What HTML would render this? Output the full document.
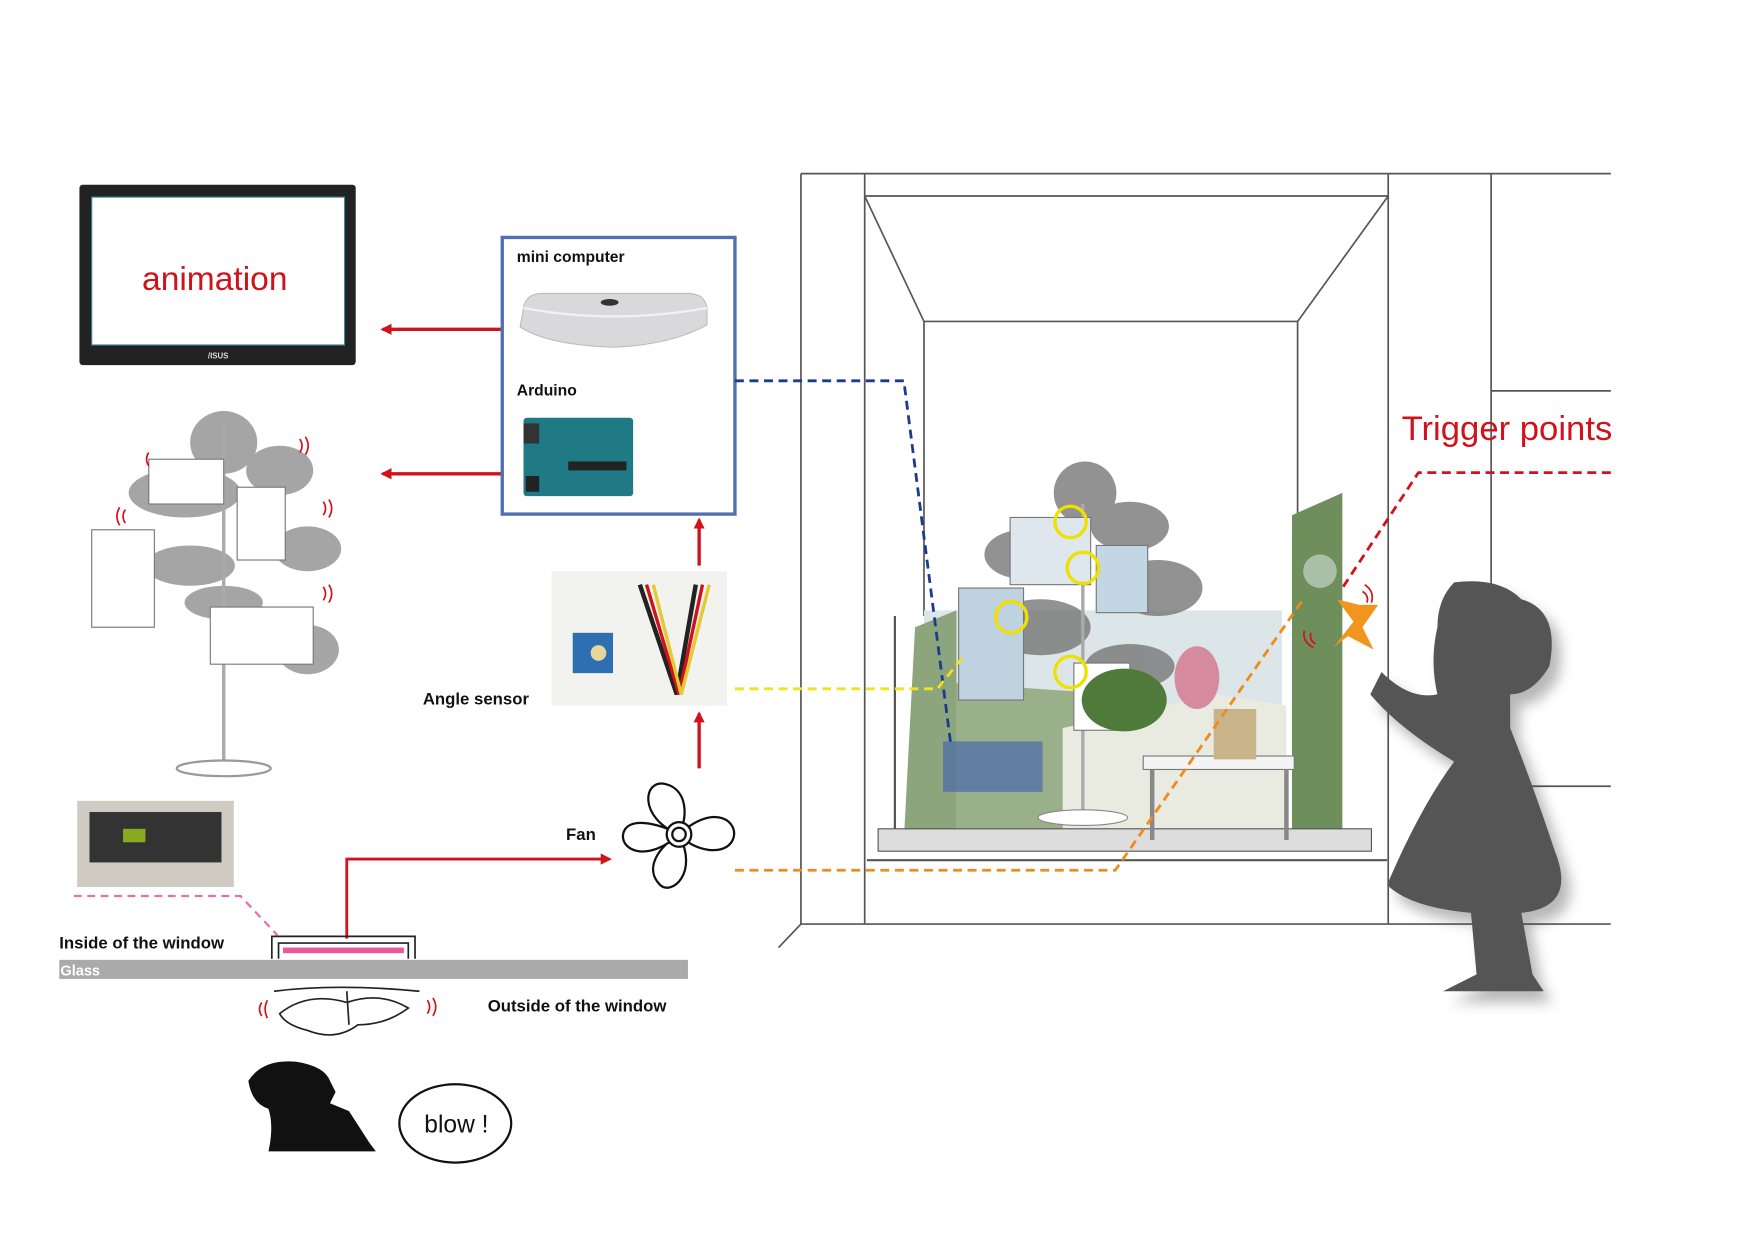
<!DOCTYPE html>
<html><head><meta charset="utf-8"><style>
html,body{margin:0;padding:0;background:#fff;}
svg{display:block;}
text{font-family:"Liberation Sans",sans-serif;}
</style></head><body>
<svg width="1754" height="1241" viewBox="0 0 1568 1108" xmlns="http://www.w3.org/2000/svg" preserveAspectRatio="none">
<defs>
<marker id="ar" markerWidth="10" markerHeight="10" refX="8" refY="5" orient="auto" markerUnits="userSpaceOnUse"><path d="M0,0 L10,5 L0,10 Z" fill="#d0121b"/></marker>
<filter id="sh"><feGaussianBlur stdDeviation="6"/></filter>
</defs>
<rect width="1568" height="1108" fill="#fff"/>

<!-- monitor -->
<rect x="71" y="165" width="247" height="161" rx="3" fill="#222"/>
<rect x="82" y="176" width="226" height="132" fill="#fff" stroke="#3a8a9a" stroke-width="1"/>
<text x="192" y="259" font-size="30" fill="#d0121b" text-anchor="middle">animation</text>
<text x="195" y="320" font-size="7" fill="#ddd" text-anchor="middle" font-weight="bold">/ISUS</text>

<line x1="448" y1="294" x2="342" y2="294" stroke="#d0121b" stroke-width="3" marker-end="url(#ar)"/>
<line x1="448" y1="423" x2="342" y2="423" stroke="#d0121b" stroke-width="3" marker-end="url(#ar)"/>

<!-- controller box -->
<rect x="449" y="212" width="208" height="247" fill="#fff" stroke="#5170b0" stroke-width="3"/>
<text x="462" y="234" font-size="14" font-weight="bold" fill="#111">mini computer</text>
<path d="M468,275 Q470,262 485,262 L615,262 Q630,262 632,275 L632,290 Q600,308 548,310 Q490,308 465,292 Z" fill="#d9d9dc" stroke="#bbb"/>
<path d="M468,275 Q548,290 632,275" fill="none" stroke="#f2f2f2" stroke-width="2"/>
<ellipse cx="545" cy="270" rx="8" ry="3" fill="#333"/>
<text x="462" y="353" font-size="14" font-weight="bold" fill="#111">Arduino</text>
<rect x="468" y="373" width="98" height="70" rx="3" fill="#1f7a86"/>
<rect x="468" y="378" width="14" height="18" fill="#333"/>
<rect x="508" y="412" width="52" height="8" fill="#222"/>
<rect x="470" y="425" width="12" height="14" fill="#222"/>

<!-- left tree -->
<g fill="#888" opacity="0.75">
<ellipse cx="200" cy="395" rx="30" ry="28"/>
<ellipse cx="250" cy="420" rx="30" ry="22"/>
<ellipse cx="165" cy="440" rx="50" ry="22"/>
<ellipse cx="275" cy="490" rx="30" ry="20"/>
<ellipse cx="170" cy="505" rx="40" ry="18"/>
<ellipse cx="200" cy="538" rx="35" ry="15"/>
<ellipse cx="275" cy="580" rx="28" ry="22"/>
</g>
<line x1="200" y1="380" x2="200" y2="685" stroke="#aaa" stroke-width="3"/>
<ellipse cx="200" cy="686" rx="42" ry="7" fill="#fff" stroke="#999" stroke-width="2"/>
<g fill="#fff" stroke="#777" stroke-width="1">
<rect x="133" y="410" width="67" height="40"/>
<rect x="212" y="435" width="43" height="65"/>
<rect x="82" y="473" width="56" height="87"/>
<rect x="188" y="542" width="92" height="51"/>
</g>
<g fill="none" stroke="#d0121b" stroke-width="1.5">
<path d="M268,392 q4,6 0,12 M273,390 q5,8 0,16"/>
<path d="M289,448 q4,6 0,12 M294,446 q5,8 0,16"/>
<path d="M289,524 q4,6 0,12 M294,522 q5,8 0,16"/>
<path d="M133,404 q-4,6 0,12"/>
<path d="M112,455 q-4,6 0,12 M107,453 q-5,8 0,16"/>
</g>

<!-- angle sensor -->
<rect x="493" y="510" width="157" height="120" fill="#f2f2ef"/>
<rect x="512" y="565" width="36" height="36" fill="#2d6fb0"/>
<circle cx="535" cy="583" r="7" fill="#e6d69a"/>
<path d="M572,522 L605,620 L622,522" fill="none" stroke="#222" stroke-width="4"/>
<path d="M578,522 L607,620 L628,522" fill="none" stroke="#d0121b" stroke-width="3"/>
<path d="M584,522 L609,620 L634,522" fill="none" stroke="#e6c830" stroke-width="3"/>
<text x="378" y="629" font-size="15" font-weight="bold" fill="#111">Angle sensor</text>
<line x1="625" y1="505" x2="625" y2="464" stroke="#d0121b" stroke-width="3" marker-end="url(#ar)"/>
<line x1="625" y1="686" x2="625" y2="637" stroke="#d0121b" stroke-width="3" marker-end="url(#ar)"/>

<!-- fan -->
<g fill="#fff" stroke="#111" stroke-width="2">
<path d="M607,745 C570,730 575,695 595,700 C615,705 615,730 607,745Z"/>
<path d="M607,745 C640,715 662,735 655,750 C648,765 620,760 607,745Z"/>
<path d="M607,745 C625,780 600,800 590,790 C575,775 590,755 607,745Z"/>
<path d="M607,745 C580,770 555,760 557,745 C560,728 590,735 607,745Z"/>
<circle cx="607" cy="745" r="11"/><circle cx="607" cy="745" r="6"/>
</g>
<text x="506" y="750" font-size="15" font-weight="bold" fill="#111">Fan</text>
<path d="M310,838 L310,767 L545,767" fill="none" stroke="#d0121b" stroke-width="2.5" marker-end="url(#ar)"/>

<!-- pcb -->
<rect x="69" y="715" width="140" height="77" fill="#cfcac2"/>
<rect x="80" y="725" width="118" height="45" fill="#333"/>
<rect x="110" y="740" width="20" height="12" fill="#8a2"/>
<path d="M66,800 L215,800 L248,835" fill="none" stroke="#ea6fa4" stroke-width="2" stroke-dasharray="7,5"/>
<text x="53" y="847" font-size="15" font-weight="bold" fill="#111">Inside of the window</text>
<rect x="53" y="857" width="562" height="17" fill="#aaa"/>
<text x="54" y="871" font-size="13" fill="#fff" font-weight="bold">Glass</text>
<path d="M243,856 L243,836 L371,836 L371,856 M249,856 L249,842 L365,842 L365,856" fill="none" stroke="#222" stroke-width="1.5"/>
<rect x="253" y="846" width="108" height="5" fill="#e8589a"/>
<text x="436" y="903" font-size="15" font-weight="bold" fill="#111">Outside of the window</text>
<g fill="none" stroke="#222" stroke-width="1.5">
<path d="M245,885 Q300,878 375,885"/>
<path d="M250,905 Q275,885 310,895 Q340,885 365,900 Q345,915 320,915 Q300,930 275,920 Q255,915 250,905Z"/>
<path d="M310,885 L312,915"/>
</g>
<g fill="none" stroke="#d0121b" stroke-width="1.5">
<path d="M234,895 q-4,6 0,12 M239,893 q-4,8 0,16"/>
<path d="M382,893 q4,6 0,12 M387,891 q5,8 0,16"/>
</g>
<path d="M222,965 Q235,945 265,948 Q290,952 295,965 L300,975 L295,985 L312,992 L330,1020 L336,1028 L240,1028 Q245,1005 240,990 Q225,985 222,965Z" fill="#111"/>
<ellipse cx="407" cy="1003" rx="50" ry="35" fill="#fff" stroke="#111" stroke-width="2"/>
<text x="408" y="1011" font-size="22" fill="#111" text-anchor="middle">blow !</text>

<!-- window frame -->
<g stroke="#555" stroke-width="1.5" fill="none">
<line x1="716" y1="155" x2="716" y2="825"/>
<line x1="716" y1="155" x2="1440" y2="155"/>
<line x1="773" y1="155" x2="773" y2="825"/>
<line x1="1241" y1="155" x2="1241" y2="825"/>
<line x1="1333" y1="155" x2="1333" y2="825"/>
<line x1="716" y1="825" x2="1440" y2="825"/>
<line x1="1333" y1="349" x2="1440" y2="349"/>
<line x1="1333" y1="702" x2="1440" y2="702"/>
<line x1="716" y1="825" x2="696" y2="846"/>
<line x1="773" y1="175" x2="1241" y2="175"/>
<line x1="773" y1="175" x2="826" y2="287"/>
<line x1="1241" y1="175" x2="1160" y2="287"/>
<line x1="826" y1="287" x2="1160" y2="287"/>
<line x1="826" y1="287" x2="826" y2="550"/>
<line x1="1160" y1="287" x2="1160" y2="550"/>
</g>
<rect x="826" y="545" width="320" height="120" fill="#dce6e8"/>
<path d="M818,560 L855,545 L855,745 L808,750 Z" fill="#8ca57c"/>
<path d="M855,610 L1000,620 L1000,740 L855,745 Z" fill="#99b08a"/>
<path d="M950,650 L1090,620 L1150,630 L1150,740 L950,740 Z" fill="#e9ebe0"/>
<path d="M1155,460 L1200,440 L1200,745 L1155,745 Z" fill="#6e8e5c"/>
<circle cx="1180" cy="510" r="15" fill="#a9bfa8"/>
<path d="M800,550 L800,750" stroke="#555" stroke-width="2"/>
<rect x="843" y="662" width="89" height="45" fill="#4d6fa8" opacity="0.75"/>
<path d="M785,740 L1226,740 L1226,760 L785,760 Z" fill="#ddd" stroke="#555"/>
<path d="M775,768 L1240,768" stroke="#555" stroke-width="2"/>
<rect x="1022" y="675" width="135" height="12" fill="#f4f4f4" stroke="#777"/>
<line x1="1030" y1="687" x2="1030" y2="750" stroke="#888" stroke-width="4"/>
<line x1="1150" y1="687" x2="1150" y2="750" stroke="#888" stroke-width="4"/>
<rect x="1085" y="633" width="38" height="45" fill="#c9b48a"/>
<g fill="#777" opacity="0.8">
<ellipse cx="970" cy="440" rx="28" ry="28"/>
<ellipse cx="1010" cy="470" rx="35" ry="22"/>
<ellipse cx="915" cy="495" rx="35" ry="22"/>
<ellipse cx="1035" cy="525" rx="40" ry="25"/>
<ellipse cx="930" cy="560" rx="45" ry="25"/>
<ellipse cx="1010" cy="595" rx="40" ry="20"/>
</g>
<line x1="968" y1="450" x2="968" y2="730" stroke="#aaa" stroke-width="3"/>
<ellipse cx="968" cy="730" rx="40" ry="7" fill="#fff" stroke="#888"/>
<g stroke="#777" stroke-width="1">
<rect x="903" y="462" width="72" height="60" fill="#dfe7ee"/>
<rect x="980" y="487" width="46" height="60" fill="#c3d6e4"/>
<rect x="857" y="525" width="58" height="100" fill="#bfd2e0"/>
<rect x="960" y="592" width="50" height="60" fill="#fff"/>
</g>
<ellipse cx="1005" cy="625" rx="38" ry="28" fill="#4f7a3a"/>
<ellipse cx="1070" cy="605" rx="20" ry="28" fill="#d58a9e"/>
<g fill="none" stroke="#f0e000" stroke-width="3">
<circle cx="957" cy="466" r="14"/><circle cx="968" cy="507" r="14"/>
<circle cx="904" cy="551" r="14"/><circle cx="957" cy="600" r="14"/>
</g>
<path d="M1210,555 L1195,535 L1215,540 L1232,540 L1218,560 L1228,580 L1205,568 L1192,578 Z" fill="#f0961e"/>
<g fill="none" stroke="#d0121b" stroke-width="1.5">
<path d="M1218,528 q6,4 4,10 M1220,522 q9,6 6,16"/>
<path d="M1172,565 q-2,6 4,10 M1166,563 q-2,10 8,15"/>
</g>
<g transform="translate(8,10)" opacity="0.35" filter="url(#sh)">
<path d="M1300,520 Q1340,515 1360,535 Q1395,545 1385,595 Q1370,620 1350,620 L1350,650 Q1370,700 1390,760 Q1410,810 1360,815 L1370,870 L1380,885 L1290,885 L1320,870 L1315,815 Q1260,810 1240,790 Q1270,720 1300,680 Q1250,650 1225,620 L1235,600 Q1260,625 1285,620 Q1278,590 1285,560 Q1285,535 1300,520Z" fill="#333"/>
</g>
<path d="M1300,520 Q1340,515 1360,535 Q1395,545 1385,595 Q1370,620 1350,620 L1350,650 Q1370,700 1390,760 Q1410,810 1360,815 L1370,870 L1380,885 L1290,885 L1320,870 L1315,815 Q1260,810 1240,790 Q1270,720 1300,680 Q1250,650 1225,620 L1235,600 Q1260,625 1285,620 Q1278,590 1285,560 Q1285,535 1300,520Z" fill="#555"/>

<path d="M657,340 L808,340 L850,665" fill="none" stroke="#1b3b8f" stroke-width="2.5" stroke-dasharray="8,5"/>
<path d="M657,615 L838,615 L862,585" fill="none" stroke="#f5e21a" stroke-width="2.5" stroke-dasharray="8,5"/>
<path d="M657,777 L997,777 L1165,535" fill="none" stroke="#ef8a1e" stroke-width="2.5" stroke-dasharray="8,5"/>
<path d="M1440,422 L1268,422 L1200,525" fill="none" stroke="#d0121b" stroke-width="2.5" stroke-dasharray="8,5"/>
<text x="1253" y="393" font-size="31" fill="#d0121b">Trigger points</text>
</svg>
</body></html>
